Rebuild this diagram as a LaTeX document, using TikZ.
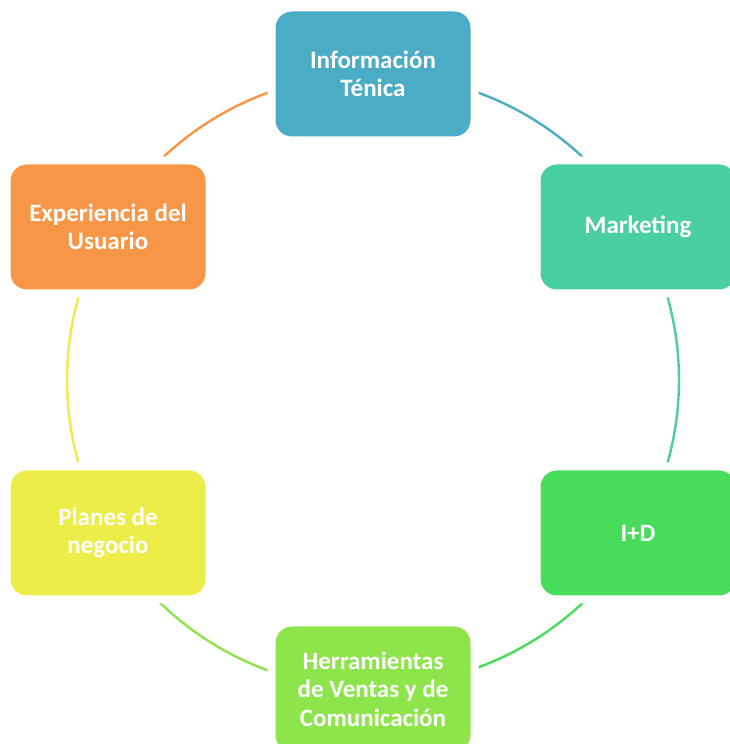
\documentclass[tikz,border=0pt]{standalone}
\usepackage{fontspec}
\setmainfont{Carlito}
\usetikzlibrary{backgrounds}
\definecolor{cblue}{HTML}{4BACC6}
\definecolor{cteal}{HTML}{4ACFA0}
\definecolor{cgreen}{HTML}{47DC5A}
\definecolor{clime}{HTML}{8DE54B}
\definecolor{cyellow}{HTML}{EDED4A}
\definecolor{corange}{HTML}{F79646}
\begin{document}
\begin{tikzpicture}[x=1pt,y=1pt,
  box/.style={rounded corners=20pt, draw=white, line width=8pt,
    minimum width=203pt, minimum height=133pt, align=center,
    text=white, font=\bfseries\fontsize{25}{28.5}\selectfont, inner sep=0pt},
  ring/.style={line width=2.4pt}]
\useasboundingbox (0,0) rectangle (730,744);
\node[box, fill=cblue]   (top) at (373,670) {Información\\Ténica};
\node[box, fill=cteal]   (tr)  at (638,517) {Marketing};
\node[box, fill=cgreen]  (br)  at (638,211) {I+D};
\node[box, fill=clime]   (bot) at (373,55)  {Herramientas\\de Ventas y de\\Comunicación};
\node[box, fill=cyellow] (bl)  at (108,211) {Planes de\\negocio};
\node[box, fill=corange] (tl)  at (108,517) {Experiencia del\\Usuario};
\begin{scope}[on background layer]
\fill[white] (0,0) rectangle (730,744);
\draw[ring, cblue]   (top.center) arc[start angle=90,  end angle=30,   radius=306pt];
\draw[ring, cteal]   (tr.center)  arc[start angle=30,  end angle=-30,  radius=306pt];
\draw[ring, cgreen]  (br.center)  arc[start angle=-30, end angle=-90,  radius=306pt];
\draw[ring, clime]   (bot.center) arc[start angle=-90, end angle=-150, radius=306pt];
\draw[ring, cyellow] (bl.center)  arc[start angle=210, end angle=150,  radius=306pt];
\draw[ring, corange] (tl.center)  arc[start angle=150, end angle=90,   radius=306pt];
\end{scope}
\end{tikzpicture}
\end{document}
